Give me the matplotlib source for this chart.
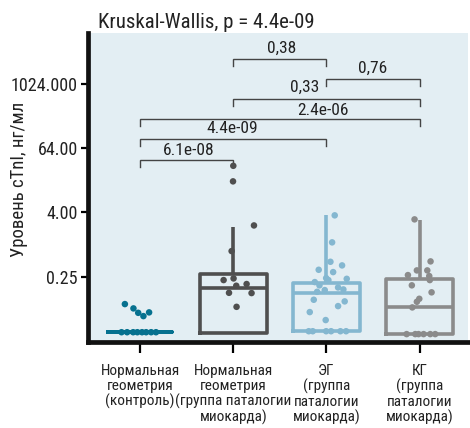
#!/usr/bin/env python3
# -*- coding: utf-8 -*-
import matplotlib
matplotlib.use("Agg")
import matplotlib.pyplot as plt
import matplotlib.font_manager as fm

# --- data (cTnI, ng/ml) ---
groups = [
    "Нормальная\nгеометрия\n(контроль)",
    "Нормальная\nгеометрия\n(группа паталогии\nмиокарда)",
    "ЭГ\n(группа\nпаталогии\nмиокарда)",
    "КГ\n(группа\nпаталогии\nмиокарда)",
]
colors = ["#06718f", "#4f4f4f", "#84b7d0", "#8b8b8b"]

q1 = [0.023, 0.0224, 0.0244, 0.0212]
median = [0.023, 0.152, 0.122, 0.0686]
q3 = [0.023, 0.281, 0.188, 0.224]
whisker_hi = [0.023, 2.15, 3.56, 2.87]

g1_values = [0.0772, 0.0641, 0.0530, 0.0460, 0.0540,
             0.023, 0.023, 0.023, 0.023, 0.023, 0.023, 0.023, 0.023]
g1_jitter = [-0.164, -0.072, -0.021, 0.035, 0.096,
             -0.20, -0.14, -0.075, -0.03, 0.02, 0.064, 0.118, 0.17]

g2_values = [29.7, 15.2, 2.28, 0.756, 0.217, 0.233, 0.170, 0.183, 0.1254, 0.124, 0.0686]
g2_jitter = [0.0, -0.003, 0.222, -0.018, -0.104, 0.003, 0.032, 0.143, -0.046, 0.196, 0.035]

g3_values = [3.52, 1.10, 0.477, 0.408, 0.338, 0.306, 0.236, 0.229, 0.199, 0.217,
             0.173, 0.158, 0.145, 0.141, 0.131, 0.093, 0.0867, 0.0708, 0.0547, 0.0388,
             0.024, 0.024, 0.024, 0.024, 0.024, 0.024]
g3_jitter = [0.089, 0.061, 0.043, 0.168, -0.083, 0.072, -0.003, 0.218, -0.125, 0.021,
             -0.075, 0.125, 0.182, -0.018, -0.1, -0.136, 0.196, 0.125, -0.179, -0.008,
             -0.19, -0.147, -0.003, 0.05, 0.15, 0.211]

g4_values = [2.96, 0.485, 0.329, 0.329, 0.269, 0.258, 0.217, 0.173, 0.128, 0.097, 0.0853, 0.0669,
             0.0212, 0.0212, 0.0212, 0.0212, 0.0212, 0.0212]
g4_jitter = [-0.054, 0.118, -0.029, 0.083, -0.125, 0.104, 0.11, -0.083, 0.129, -0.003, -0.029, -0.078,
             -0.139, -0.046, -0.011, 0.043, 0.115, 0.168]

# pairwise comparisons: (group a, group b, label)
comparisons = [(1, 2, "0,38"), (2, 3, "0,76"), (1, 3, "0,33"),
               (0, 3, "2.4e-06"), (0, 2, "4.4e-09"), (0, 1, "6.1e-08")]
title = "Kruskal-Wallis, p = 4.4e-09"
y_ticks = [0.25, 4, 64, 1024]
y_tick_labels = ["0.25", "4.00", "64.00", "1024.000"]

# layout of brackets (log2 heights) and label spots
bracket_y = [11.52, 10.27, 9.03, 7.79, 6.55, 5.25]
label_xy = [(1.52, 12.2), (2.50, 10.96), (1.77, 9.78), (1.96, 8.35), (0.99, 7.24), (0.525, 5.87)]

# --- font: prefer a narrow face ---
available = {f.name for f in fm.fontManager.ttflist}
family = "DejaVu Sans"
for cand in ["Roboto Condensed", "Liberation Sans Narrow", "Open Sans Condensed", "Noto Sans Display"]:
    if cand in available:
        family = cand
        break
plt.rcParams["font.family"] = [family, "DejaVu Sans"]
if family == "DejaVu Sans":
    plt.rcParams["font.stretch"] = "condensed"

text_color = "#222222"
bg = "#e3eef3"


def plot():
    fig = plt.figure(figsize=(4.7, 4.28), dpi=100)
    ax = fig.add_axes([88 / 470, 1 - 342 / 428, 380 / 470, 309 / 428])
    ax.set_facecolor(bg)
    ax.set_yscale("log", base=2)

    stats = []
    for i in range(4):
        stats.append({"med": median[i], "q1": q1[i], "q3": q3[i],
                      "whislo": q1[i], "whishi": whisker_hi[i], "fliers": []})
    for i, st in enumerate(stats):
        c = colors[i]
        ax.bxp([st], positions=[i], widths=0.72 if i else 0.69, showcaps=False,
               showfliers=False, patch_artist=False,
               boxprops=dict(color=c, linewidth=2.6),
               medianprops=dict(color=c, linewidth=2.6),
               whiskerprops=dict(color=c, linewidth=2.6, solid_capstyle="butt"),
               manage_ticks=False)

    all_vals = [g1_values, g2_values, g3_values, g4_values]
    all_jit = [g1_jitter, g2_jitter, g3_jitter, g4_jitter]
    for i in range(4):
        xs = [i + j for j in all_jit[i]]
        ax.scatter(xs, all_vals[i], s=22, color=colors[i], edgecolors="none", zorder=3)

    # brackets
    drop = 0.43
    for (a, b, lab), yb, (lx, ly) in zip(comparisons, bracket_y, label_xy):
        ax.plot([a, a, b, b], [2 ** (yb - drop), 2 ** yb, 2 ** yb, 2 ** (yb - drop)],
                color="#444444", linewidth=1.0, solid_joinstyle="miter")
        ax.text(lx, 2 ** ly, lab, ha="center", va="center", fontsize=12.5, color=text_color)

    ax.set_xlim(-0.56, 3.52)
    ax.set_ylim(2 ** -6.05, 2 ** 13.14)
    ax.set_yticks(y_ticks)
    ax.set_yticklabels(y_tick_labels)
    ax.yaxis.set_minor_locator(matplotlib.ticker.NullLocator())
    ax.set_xticks(range(4))
    ax.set_xticklabels(groups, fontsize=11, color=text_color, linespacing=1.05)
    ax.tick_params(axis="y", labelsize=13, labelcolor=text_color, length=5.4, width=1.6, pad=2)
    ax.tick_params(axis="x", length=8, width=1.6, pad=8)

    for s in ["top", "right"]:
        ax.spines[s].set_visible(False)
    for s in ["left", "bottom"]:
        ax.spines[s].set_linewidth(3.4)
        ax.spines[s].set_color("#111111")

    ax.set_ylabel("Уровень cTnI, нг/мл", fontsize=13.5, color=text_color)
    ax.yaxis.set_label_coords(-0.158, 0.525)

    fig.text(98 / 470, 1 - 22 / 428, title, ha="left", va="center", fontsize=15, color=text_color)

    fig.savefig("out.png", dpi=100)


if __name__ == '__main__':
    plot()
